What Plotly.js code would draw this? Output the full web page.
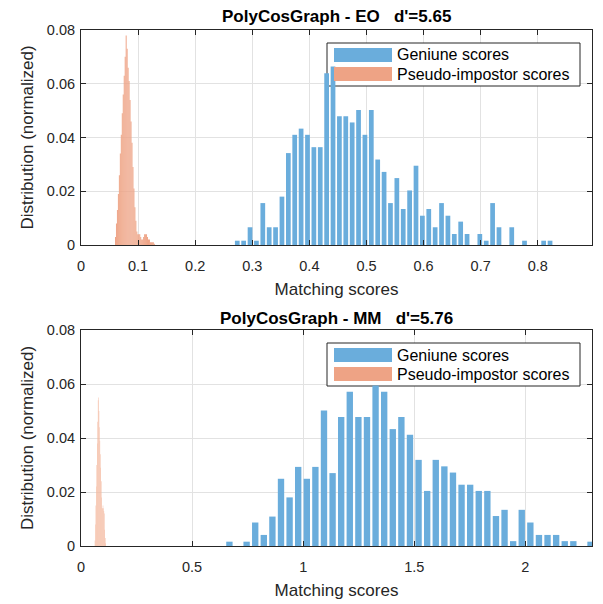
<!DOCTYPE html>
<html><head><meta charset="utf-8">
<script src="https://cdn.plot.ly/plotly-3.0.1.min.js"></script>
<style>html,body{margin:0;padding:0;background:#fff}</style>
</head><body><div id="chart" style="width:603px;height:604px"></div>
<script>
// ---- data (probability-normalized histograms) ----
const seriesNames = ["Geniune scores", "Pseudo-impostor scores"];
const titles = ["PolyCosGraph - EO\u00a0\u00a0\u00a0d'=5.65", "PolyCosGraph - MM\u00a0\u00a0\u00a0d'=5.76"];
const xLabel = "Matching scores";
const yLabel = "Distribution (normalized)";

// EO panel
const eoGenuineFirstBin = 0.2737, eoGenuineBinWidth = 0.01118;
const eoGenuine = [0.0016,0.0016,0.0066,0.0016,0.0156,0.0066,0.0066,0.018,0.0342,0.041,
  0.0433,0.041,0.0364,0.0364,0.0639,0.0664,0.0479,0.0479,0.0456,0.0502,
  0.041,0.0502,0.0318,0.0272,0.0156,0.0249,0.0134,0.0203,0.0295,0.0109,
  0.0134,0.0066,0.0156,0.0109,0.0041,0.0087,0.0041,0,0.0041,0.0016,
  0.0156,0.0066,0,0.0066,0,0.0016,0,0,0.0016,0.0016];
const eoImpostorFirstBin = 0.0604, eoImpostorBinWidth = 0.0017;
const eoImpostor = [0.003,0.008,0.013,0.019,0.026,0.034,0.041,0.049,0.056,0.063,
  0.070,0.078,0.073,0.066,0.061,0.054,0.046,0.038,0.029,0.021,
  0.014,0.009,0.005,0.004,0.004,0.004,0.003,0.002,0.002,0.003,
  0.004,0.004,0.004,0.003,0.002,0.002,0.001,0.001,0.001,0.001,0.0005];

// MM panel
const mmGenuineFirstBin = 0.668, mmGenuineBinWidth = 0.0387;
const mmGenuine = [0.0016,0,0.0016,0.0087,0.0041,0.0109,0.0249,0.018,0.0293,0.0249,
  0.0293,0.0502,0.027,0.0478,0.0571,0.0478,0.0478,0.0594,0.0571,0.0433,
  0.0478,0.0412,0.0319,0.0204,0.0319,0.0295,0.0272,0.0227,0.0227,0.0204,
  0.0204,0.0111,0.0134,0.0018,0.0134,0.0087,0.0041,0.0041,0.0041,0.0018,
  0.0018,0,0.0016];
const mmImpostorFirstBin = 0.063, mmImpostorBinWidth = 0.002;
const mmImpostor = [0.002,0.008,0.015,0.022,0.030,0.038,0.046,0.054,0.055,0.050,
  0.044,0.039,0.034,0.029,0.024,0.018,0.014,0.014,0.015,0.014,
  0.013,0.012,0.006,0.003,0.001];

const eoXTicks = [0,0.1,0.2,0.3,0.4,0.5,0.6,0.7,0.8];
const mmXTicks = [0,0.5,1,1.5,2];
const yTicks = [0,0.02,0.04,0.06,0.08];
const yTickText = ["0","0.02","0.04","0.06","0.08"];

// ---- styles ----
const FONT = "Liberation Sans, Arial, Helvetica, sans-serif";
const INK = "#262626";
const BLUE = "#6aaddc";
const ORANGE = "#eea385";
const ORANGE_LIGHT = "#f3b89e";
const W = 603, H = 604, ML = 81, MR = 11, MT = 30, MB = 58;
const PW = W - ML - MR, PH = H - MT - MB;
const px2x = p => (p - ML) / PW;
const px2y = p => (H - MB - p) / PH;
const eoXRange = [0, 0.895], mmXRange = [0, 2.3], yRange = [0, 0.08];

function bar(first, w, vals, color, frac, xa, ya, name){
  return {type:"bar", x0:first, dx:w, y:vals, width:w*frac, name:name,
    marker:{color:color, line:{width:0}}, xaxis:xa, yaxis:ya,
    showlegend:false, hoverinfo:"skip"};
}

const data = [
  bar(eoGenuineFirstBin, eoGenuineBinWidth, eoGenuine, BLUE, 0.74, "x", "y", seriesNames[0]),
  bar(eoImpostorFirstBin, eoImpostorBinWidth, eoImpostor, ORANGE, 1.0, "x", "y", seriesNames[1]),
  bar(mmGenuineFirstBin, mmGenuineBinWidth, mmGenuine, BLUE, 0.74, "x2", "y2", seriesNames[0]),
  bar(mmImpostorFirstBin, mmImpostorBinWidth, mmImpostor, ORANGE_LIGHT, 1.0, "x2", "y2", seriesNames[1])
];

function xax(range, ticks, anchor){
  return {domain:[0,1], range:range, anchor:anchor, tickvals:ticks,
    showgrid:true, gridcolor:"#e2e2e2", gridwidth:1, zeroline:false,
    showline:true, linecolor:INK, linewidth:1, mirror:"ticks",
    ticks:"inside", ticklen:5, tickcolor:INK, ticklabelstandoff:8,
    tickfont:{family:FONT, size:14.5, color:INK},
    title:{text:xLabel, font:{family:FONT, size:17, color:INK}, standoff:9}};
}
function yax(domain, anchor){
  return {domain:domain, range:yRange, anchor:anchor, tickvals:yTicks, ticktext:yTickText,
    showgrid:true, gridcolor:"#e2e2e2", gridwidth:1, zeroline:false,
    showline:true, linecolor:INK, linewidth:1, mirror:"ticks",
    ticks:"inside", ticklen:5, tickcolor:INK, ticklabelstandoff:2,
    tickfont:{family:FONT, size:14.5, color:INK},
    title:{text:yLabel, font:{family:FONT, size:17, color:INK}, standoff:8}};
}

// custom legend boxes (MATLAB-style wide swatches); box sits between grid and bars
const shapes = [], annotations = [];
function legendBox(topPx, xa, ya, xRange, axBottomPx, axTopPx){
  const dx = p => xRange[0] + (p - ML) / PW * (xRange[1] - xRange[0]);
  const dy = p => yRange[0] + (axBottomPx - p) / (axBottomPx - axTopPx) * (yRange[1] - yRange[0]);
  shapes.push({type:"rect", xref:xa, yref:ya, x0:dx(327), x1:dx(580), y0:dy(topPx), y1:dy(topPx+43),
    fillcolor:"#fff", line:{color:INK, width:1}, layer:"between"});
  const colors = [BLUE, ORANGE];
  for (let i = 0; i < 2; i++){
    const cy = topPx + 12 + i*19;
    shapes.push({type:"rect", xref:"paper", yref:"paper", x0:px2x(334), x1:px2x(392), y0:px2y(cy-7), y1:px2y(cy+7),
      fillcolor:colors[i], line:{width:0}, layer:"above"});
    annotations.push({text:seriesNames[i], xref:"paper", yref:"paper", x:px2x(395), y:px2y(cy), xanchor:"left", yanchor:"middle",
      showarrow:false, font:{family:FONT, size:16, color:"#000"}});
  }
}
legendBox(43, "x", "y", eoXRange, 245, 30);
legendBox(343, "x2", "y2", mmXRange, 546, 330);
annotations.push(
  {text:"<b>"+titles[0]+"</b>", xref:"paper", yref:"paper", x:0.5, y:px2y(17), xanchor:"center", yanchor:"middle", showarrow:false, font:{family:FONT, size:17, color:"#000"}},
  {text:"<b>"+titles[1]+"</b>", xref:"paper", yref:"paper", x:0.5, y:px2y(318), xanchor:"center", yanchor:"middle", showarrow:false, font:{family:FONT, size:17, color:"#000"}}
);

const layout = {
  width:W, height:H, margin:{l:ML, r:MR, t:MT, b:MB},
  paper_bgcolor:"#fff", plot_bgcolor:"#fff", barmode:"overlay",
  font:{family:FONT, color:INK}, showlegend:false,
  xaxis: xax(eoXRange, eoXTicks, "y"),
  yaxis: yax([px2y(245),1], "x"),
  xaxis2: xax(mmXRange, mmXTicks, "y2"),
  yaxis2: yax([0,px2y(330)], "x2"),
  shapes: shapes, annotations: annotations
};

Plotly.newPlot("chart", data, layout, {staticPlot:true, displayModeBar:false});
</script>
</body></html>
